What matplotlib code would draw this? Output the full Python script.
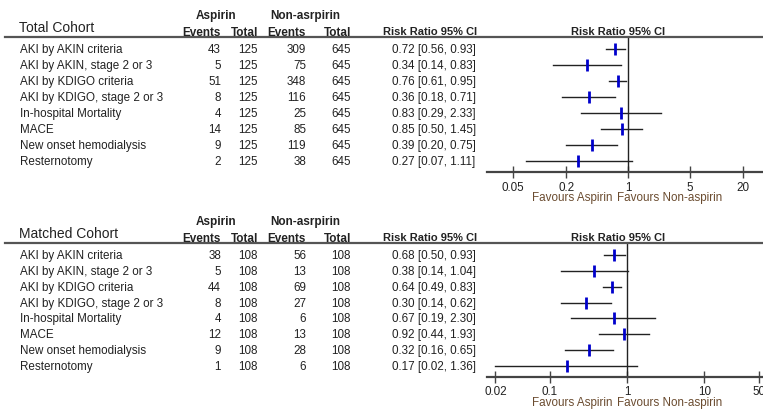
import matplotlib
matplotlib.use('Agg')
import matplotlib.pyplot as plt
from matplotlib.lines import Line2D

plt.rcParams['font.family'] = ['Liberation Sans', 'DejaVu Sans']

W = 763
H = 410

outcomes = ['AKI by AKIN criteria', 'AKI by AKIN, stage 2 or 3', 'AKI by KDIGO criteria',
            'AKI by KDIGO, stage 2 or 3', 'In-hospital Mortality', 'MACE',
            'New onset hemodialysis', 'Resternotomy']

# Total cohort
total_asp_ev = [43, 5, 51, 8, 4, 14, 9, 2]
total_asp_n = 125
total_non_ev = [309, 75, 348, 116, 25, 85, 119, 38]
total_non_n = 645
total_rr = [0.72, 0.34, 0.76, 0.36, 0.83, 0.85, 0.39, 0.27]
total_lo = [0.56, 0.14, 0.61, 0.18, 0.29, 0.50, 0.20, 0.07]
total_hi = [0.93, 0.83, 0.95, 0.71, 2.33, 1.45, 0.75, 1.11]
total_ticks = [0.05, 0.2, 1, 5, 20]

# Matched cohort
match_asp_ev = [38, 5, 44, 8, 4, 12, 9, 1]
match_asp_n = 108
match_non_ev = [56, 13, 69, 27, 6, 13, 28, 6]
match_non_n = 108
match_rr = [0.68, 0.38, 0.64, 0.30, 0.67, 0.92, 0.32, 0.17]
match_lo = [0.50, 0.14, 0.49, 0.14, 0.19, 0.44, 0.16, 0.02]
match_hi = [0.93, 1.04, 0.83, 0.62, 2.30, 1.93, 0.65, 1.36]
match_ticks = [0.02, 0.1, 1, 10, 50]

fig = plt.figure(figsize=(W / 100, H / 100), dpi=100)


def fx(x):
    return x / W


def fy(y):
    return 1 - y / H


def panel(title, top, step, asp_ev, asp_n, non_ev, non_n, rr, lo, hi, ticks, xlim):
    txt = '#222222'
    fs = 8.4
    # header
    fig.text(fx(216), fy(top - 22), 'Aspirin', ha='center', va='center', fontsize=8.5, weight='bold', color=txt)
    fig.text(fx(305), fy(top - 22), 'Non-asrpirin', ha='center', va='center', fontsize=8.5, weight='bold', color=txt)
    for x, s in [(221, 'Events'), (258, 'Total'), (306, 'Events'), (351, 'Total')]:
        fig.text(fx(x), fy(top - 5), s, ha='right', va='center', fontsize=8.5, weight='bold', color=txt)
    fig.text(fx(19), fy(top - 10), title, ha='left', va='center', fontsize=10, color=txt)
    fig.text(fx(383), fy(top - 6), 'Risk Ratio 95% CI', ha='left', va='center', fontsize=8, weight='bold', color=txt)
    fig.text(fx(618), fy(top - 6), 'Risk Ratio 95% CI', ha='center', va='center', fontsize=8, weight='bold', color=txt)
    fig.add_artist(Line2D([fx(5), 1], [fy(top), fy(top)], color='#555555', lw=1.6))

    # table rows
    for i in range(len(outcomes)):
        y = fy(top + 12 + step * i)
        fig.text(fx(20), y, outcomes[i], ha='left', va='center', fontsize=fs, color=txt)
        fig.text(fx(221), y, str(asp_ev[i]), ha='right', va='center', fontsize=fs, color=txt)
        fig.text(fx(258), y, str(asp_n), ha='right', va='center', fontsize=fs, color=txt)
        fig.text(fx(306), y, str(non_ev[i]), ha='right', va='center', fontsize=fs, color=txt)
        fig.text(fx(351), y, str(non_n), ha='right', va='center', fontsize=fs, color=txt)
        fig.text(fx(392), y, '%.2f [%.2f, %.2f]' % (rr[i], lo[i], hi[i]),
                 ha='left', va='center', fontsize=fs, color=txt)

    # forest plot
    bottom = top + 12 + step * 7.7
    ax = fig.add_axes([fx(487), fy(bottom), fx(W - 487), (bottom - top) / H])
    ax.set_xscale('log')
    ax.set_xlim(xlim)
    ax.set_ylim((bottom - top - 12) / step, -12 / step)
    for i in range(len(rr)):
        ax.plot([lo[i], hi[i]], [i, i], color='#222222', lw=1)
        ax.plot(rr[i], i, marker='|', markersize=8, mew=2, color='#0000cc')
    ax.axvline(1, color='#222222', lw=1)
    for s in ['top', 'left', 'right']:
        ax.spines[s].set_visible(False)
    ax.spines['bottom'].set_color('#444444')
    ax.spines['bottom'].set_linewidth(1.6)
    ax.set_yticks([])
    ax.set_xticks(ticks)
    ax.set_xticklabels([str(t) for t in ticks])
    ax.xaxis.set_minor_locator(matplotlib.ticker.NullLocator())
    ax.tick_params(axis='x', direction='inout', length=8, width=1, color='#444444',
                   labelsize=8.4, labelcolor=txt, pad=2)
    ax.patch.set_visible(False)
    fig.text(fx(612), fy(bottom + 25), 'Favours Aspirin', ha='right', va='center', fontsize=8.4, color='#6b4c30')
    fig.text(fx(617), fy(bottom + 25), 'Favours Non-aspirin', ha='left', va='center', fontsize=8.4, color='#6b4c30')


panel('Total Cohort', 38, 16, total_asp_ev, total_asp_n, total_non_ev, total_non_n,
      total_rr, total_lo, total_hi, total_ticks, (0.0254, 33.6))
panel('Matched Cohort', 244, 15.85, match_asp_ev, match_asp_n, match_non_ev, match_non_n,
      match_rr, match_lo, match_hi, match_ticks, (0.0156, 56.9))

plt.savefig('out.png', dpi=100)
